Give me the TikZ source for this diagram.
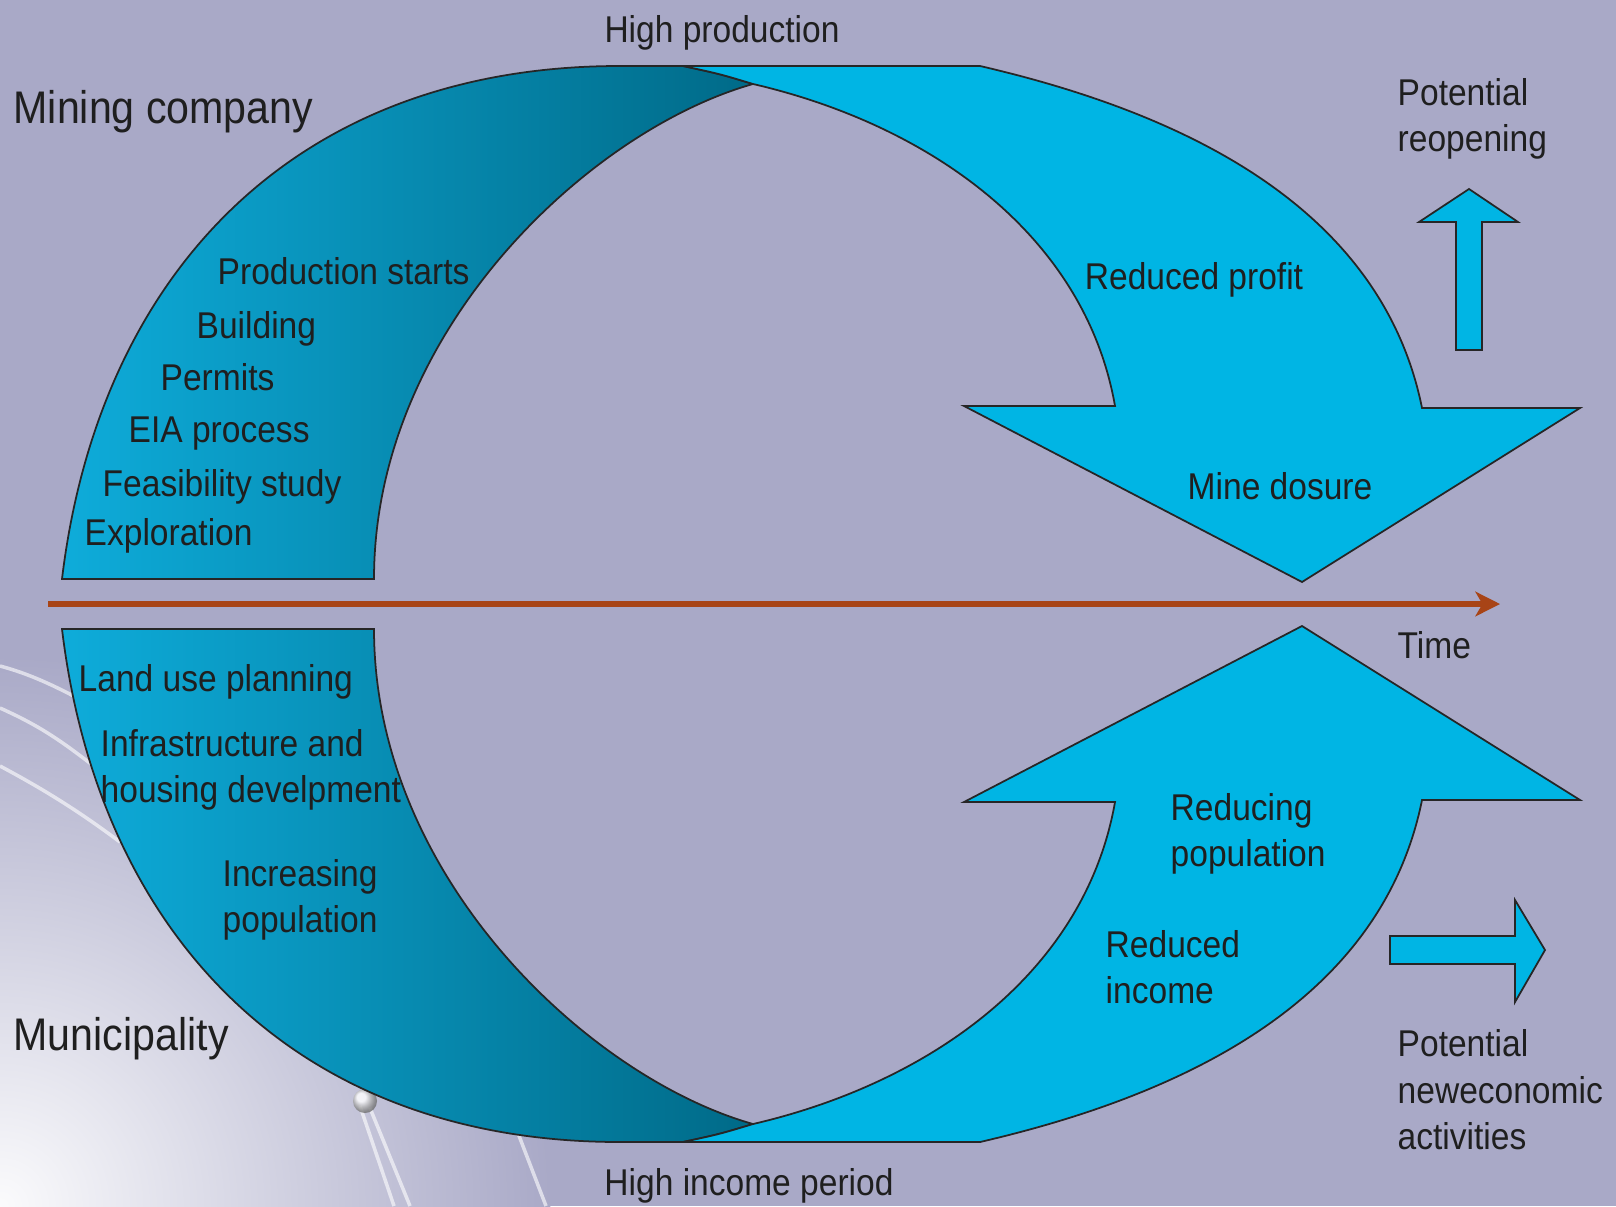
\documentclass[tikz,border=0pt]{standalone}
\usepackage{fontspec}
\setmainfont[FakeStretch=0.9]{Liberation Sans}
\usetikzlibrary{arrows.meta}
\definecolor{bg}{RGB}{169,169,199}
\definecolor{arrowblue}{RGB}{0,181,228}
\definecolor{bandlight}{RGB}{14,172,218}
\definecolor{banddark}{RGB}{0,106,136}
\definecolor{timeline}{RGB}{168,68,22}
\begin{document}
\begin{tikzpicture}[x=0.01cm, y=-0.01cm,
    lbl/.style={font=\fontsize{10.6}{13.2}\selectfont, text=black!88, inner sep=0pt, align=left},
    big/.style={font=\fontsize{13}{15}\selectfont, text=black!88, inner sep=0pt},
    band/.style={draw=black!85, line width=0.5pt, left color=bandlight, right color=banddark},
    front/.style={draw=black!85, line width=0.5pt, fill=arrowblue},
    deco/.style={white, opacity=0.6, line width=1pt}]
    \fill[bg] (0,0) rectangle (1616,1206);
    \useasboundingbox (0,0) rectangle (1616,1206);
    \begin{scope}
        \clip (0,0) rectangle (1616,1206);
        \shade[inner color=white!95!bg, outer color=bg] (0,1206) circle (5.5cm);
    \end{scope}
    \draw[deco] (0,666) .. controls (30,674) and (55,686) .. (85,702);
    \draw[deco] (0,708) .. controls (40,726) and (60,740) .. (95,767);
    \draw[deco] (0,766) .. controls (45,790) and (80,812) .. (120,842);
    \draw[deco] (360,1106) -- (394,1206);
    \draw[deco] (370,1108) -- (410,1206);
    \draw[deco] (516,1128) -- (546,1206);
    \shade[ball color=white, opacity=0.8] (365,1101) circle (0.12cm);
    \draw[band] (62,579) .. controls (98,279) and (290,66) .. (620,66) -- (683,66)
        .. controls (720,74) .. (753,84) .. controls (590,130) and (374,330) .. (374,579) -- cycle;
    \draw[front] (683,66) -- (980,66) .. controls (1170,110) and (1380,200) .. (1422,408)
        -- (1580,408) -- (1302,582) -- (964,406) -- (1115,406)
        .. controls (1085,235) and (930,125) .. (753,84) .. controls (720,74) .. (683,66) -- cycle;
    \begin{scope}[shift={(0,1208)}, yscale=-1]
        \draw[band] (62,579) .. controls (98,279) and (290,66) .. (620,66) -- (683,66)
            .. controls (720,74) .. (753,84) .. controls (590,130) and (374,330) .. (374,579) -- cycle;
        \draw[front] (683,66) -- (980,66) .. controls (1170,110) and (1380,200) .. (1422,408)
            -- (1580,408) -- (1302,582) -- (964,406) -- (1115,406)
            .. controls (1085,235) and (930,125) .. (753,84) .. controls (720,74) .. (683,66) -- cycle;
    \end{scope}
    \draw[front] (1456,350) -- (1456,222) -- (1419,222) -- (1469,189) -- (1518,222)
        -- (1482,222) -- (1482,350) -- cycle;
    \draw[front] (1390,936) -- (1515,936) -- (1515,900) -- (1545,950) -- (1515,1002)
        -- (1515,964) -- (1390,964) -- cycle;
    \coordinate (t0) at (48,604);
    \coordinate (t1) at (1500,604);
    \draw[timeline, line width=1.8pt, -{Stealth[length=7pt,width=7pt,inset=2pt]}] (t0) -- (t1);
    \node[big, anchor=west] (mining) at (13,112) {Mining company};
    \node[big, anchor=west] (municipality) at (13,1039) {Municipality};
    \node[lbl] (highprod) at (722,33) {High production};
    \node[lbl] (highincome) at (749,1186) {High income period};
    \node[lbl, anchor=west] (prodstart) at (217,271) {Production starts};
    \node[lbl, anchor=west] (building) at (196,329) {Building};
    \node[lbl, anchor=west] (permits) at (160,377) {Permits};
    \node[lbl, anchor=west] (eia) at (128,434) {EIA process};
    \node[lbl, anchor=west] (feasibility) at (102,487) {Feasibility study};
    \node[lbl, anchor=west] (exploration) at (84,536) {Exploration};
    \node[lbl] (profit) at (1194,280) {Reduced profit};
    \node[lbl] (closure) at (1280,486) {Mine dosure};
    \node[lbl, anchor=west] (reopen) at (1397,119) {Potential\\reopening};
    \node[lbl, anchor=west] (time) at (1397,645) {Time};
    \node[lbl, anchor=west] (landuse) at (78,682) {Land use planning};
    \node[lbl, anchor=west] (infra) at (100,770) {Infrastructure and\\housing develpment};
    \node[lbl, anchor=west] (incpop) at (222,900) {Increasing\\population};
    \node[lbl, anchor=west] (redpop) at (1170,834) {Reducing\\population};
    \node[lbl, anchor=west] (redinc) at (1105,967) {Reduced\\income};
    \node[lbl, anchor=west] (neweco) at (1397,1090) {Potential\\neweconomic\\activities};
\end{tikzpicture}
\end{document}
